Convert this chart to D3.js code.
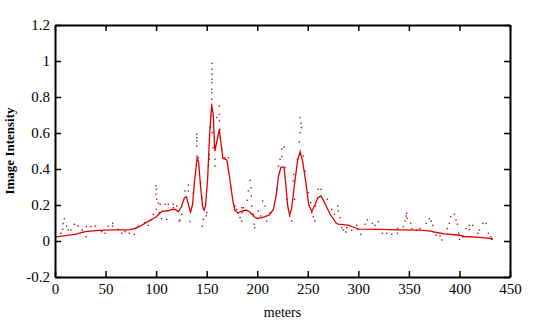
<!DOCTYPE html>
<html lang="en">
<head>
    <meta charset="UTF-8">
    <title>Image Intensity vs meters</title>
    <script src="https://d3js.org/d3.v7.min.js"></script>
    <style>
        body { margin: 0; background: #fff; }
        text { font-family: "Liberation Serif", "Times New Roman", serif; }
    </style>
</head>
<body>
    <div id="my_dataviz"></div>

    <script>
        // smoothed profile [meters, intensity]
        var linePoints = [
            [0, 0.022], [10, 0.03], [20, 0.037], [25, 0.045], [30, 0.052], [40, 0.058],
            [50, 0.06], [60, 0.062], [70, 0.062], [75, 0.063], [80, 0.07], [85, 0.085],
            [90, 0.102], [95, 0.117], [100, 0.133], [103, 0.15], [106, 0.165], [112, 0.168],
            [116, 0.175], [119, 0.175], [122, 0.162], [125, 0.19], [128, 0.24], [130, 0.245],
            [133, 0.18], [134, 0.16], [136, 0.2], [138, 0.33], [140.5, 0.46], [142, 0.44],
            [144, 0.3], [146, 0.19], [147.5, 0.17], [149, 0.2], [151, 0.35], [153, 0.6],
            [155, 0.755], [156.5, 0.7], [158, 0.5], [160, 0.55], [162.5, 0.62], [164, 0.55],
            [166, 0.46], [170, 0.45], [172, 0.38], [174, 0.3], [176, 0.22], [178, 0.17],
            [181, 0.155], [184, 0.165], [189, 0.172], [193, 0.16], [197, 0.135], [200, 0.125],
            [205, 0.13], [212, 0.145], [216, 0.175], [219, 0.26], [221, 0.36], [223.5, 0.41],
            [226.5, 0.41], [228, 0.33], [230, 0.2], [232, 0.145], [234, 0.18], [237, 0.32],
            [240, 0.45], [242.5, 0.497], [245, 0.44], [248, 0.33], [251, 0.2], [254, 0.165],
            [257, 0.2], [260, 0.24], [263, 0.25], [266, 0.22], [269, 0.185], [272, 0.15],
            [275, 0.125], [278, 0.1], [280, 0.094], [290, 0.088], [296, 0.075], [300, 0.066],
            [320, 0.065], [340, 0.062], [360, 0.06], [370, 0.056], [375, 0.05], [385, 0.04],
            [400, 0.032], [405, 0.025], [420, 0.02], [430, 0.015], [433, 0.008]
        ];

        // raw samples [meters, intensity]
        var dotPoints = [
            [5.9, 0.043], [7.6, 0.065], [8.2, 0.097], [9.2, 0.124], [11.5, 0.083], [13.2, 0.061],
            [15.8, 0.061], [19.1, 0.093], [23, 0.083], [27, 0.061], [30.7, 0.024], [31, 0.08],
            [35.3, 0.08], [39.6, 0.083], [46.2, 0.052], [49.5, 0.043], [52.7, 0.083], [57, 0.098],
            [57, 0.083], [62.6, 0.065], [66, 0.043], [69.2, 0.052], [73.5, 0.043], [74.8, 0.065],
            [78.5, 0.037], [80, 0.074], [82, 0.083], [89, 0.102], [92.3, 0.087], [95.6, 0.12],
            [97.2, 0.148], [99.9, 0.306], [100.3, 0.287], [99.9, 0.26], [100.6, 0.232], [102.2, 0.21],
            [100.3, 0.176], [103, 0.158], [105.5, 0.124], [104, 0.204], [108.8, 0.204], [110.5, 0.12],
            [112, 0.204], [117, 0.204], [120.4, 0.194], [123, 0.11], [117, 0.185], [123.6, 0.117],
            [125.3, 0.148], [128.6, 0.278], [131.9, 0.31], [131.9, 0.278], [133.5, 0.108], [134, 0.167],
            [136.8, 0.269], [140.1, 0.593], [140.1, 0.574], [140.1, 0.556], [140.1, 0.528], [140.5, 0.472],
            [141.8, 0.463], [144.1, 0.324], [145.1, 0.241], [145.7, 0.083], [146.7, 0.12], [147.7, 0.18],
            [150, 0.158], [149.6, 0.14], [151.6, 0.417], [152.6, 0.454], [152.6, 0.48], [153.3, 0.63],
            [154, 0.694], [155, 0.76], [155, 0.787], [155, 0.824], [155, 0.843], [155, 0.88],
            [155.3, 0.898], [155.3, 0.926], [155.3, 0.954], [155.3, 0.987], [155.6, 0.602], [156.2, 0.519],
            [158.3, 0.417], [158.3, 0.454], [160, 0.686], [162.6, 0.75], [162.6, 0.704], [162.6, 0.667],
            [163.2, 0.62], [163.4, 0.574], [164.9, 0.51], [168.2, 0.463], [171.5, 0.463], [173.8, 0.297],
            [178, 0.194], [179.7, 0.176], [183, 0.13], [184.6, 0.111], [186.3, 0.185], [191.2, 0.278],
            [184.7, 0.185], [185, 0.157], [190.2, 0.226], [192.9, 0.337], [193.9, 0.296], [194.2, 0.25],
            [194.6, 0.194], [196.2, 0.148], [196.9, 0.093], [197.5, 0.074], [201.1, 0.167], [203.5, 0.139],
            [205.4, 0.222], [207.7, 0.194], [209.4, 0.111], [212.7, 0.158], [219.3, 0.287], [221, 0.417],
            [222.6, 0.454], [224.3, 0.51], [226.5, 0.522], [224.3, 0.47], [227.5, 0.408], [229.2, 0.232],
            [230.8, 0.176], [232.4, 0.139], [234.1, 0.111], [235.7, 0.333], [236.2, 0.37], [237, 0.232],
            [239.7, 0.454], [241.7, 0.55], [242.3, 0.602], [243.3, 0.654], [242.3, 0.686], [243.8, 0.63],
            [245.6, 0.472], [247.3, 0.389], [250.6, 0.269], [252.9, 0.213], [253.9, 0.157], [255.5, 0.135],
            [257, 0.111], [257.6, 0.194], [260.4, 0.287], [263.1, 0.287], [269.4, 0.232], [273.7, 0.176],
            [276.3, 0.148], [279.6, 0.194], [280.2, 0.167], [281.9, 0.13], [283.5, 0.074], [288.5, 0.074],
            [287.8, 0.05], [285.2, 0.061], [293.5, 0.061], [298.4, 0.087], [299.5, 0.065], [302.4, 0.037],
            [306.6, 0.093], [308.9, 0.117], [313.9, 0.098], [316.5, 0.087], [319.8, 0.108], [323.8, 0.043],
            [328.1, 0.043], [333.1, 0.037], [338.9, 0.069], [338.7, 0.043], [344.5, 0.08], [346.2, 0.111],
            [347.2, 0.139], [347.8, 0.154], [348.2, 0.126], [351.8, 0.098], [352.8, 0.069], [357.8, 0.061],
            [361, 0.069], [367, 0.098], [370.3, 0.124], [372, 0.111], [373.6, 0.087], [376.9, 0.032],
            [380.8, 0.028], [382.5, 0.006], [388, 0.069], [390, 0.098], [391.4, 0.135], [395, 0.148],
            [396.6, 0.117], [398, 0.093], [399.3, 0.043], [400, 0.009], [403.3, 0.022], [406.5, 0.069],
            [409.8, 0.087], [409.8, 0.063], [413.2, 0.087], [418.1, 0.043], [419.8, 0.061], [423.1, 0.098],
            [426.3, 0.098], [428.6, 0.043], [431, 0.024], [432, 0.015]
        ];

        var xTicks = [0, 50, 100, 150, 200, 250, 300, 350, 400, 450];
        var yTicks = [-0.2, 0, 0.2, 0.4, 0.6, 0.8, 1, 1.2];
        var yTickLabels = ["-0.2", "0", "0.2", "0.4", "0.6", "0.8", "1", "1.2"];

        var margin = {top: 25, right: 31, bottom: 56, left: 55};
        var width = 541 - margin.left - margin.right;
        var height = 333 - margin.top - margin.bottom;

        var svg = d3.select("#my_dataviz")
            .append("svg")
            .attr("width", 541)
            .attr("height", 333)
            .append("g")
            .attr("transform", "translate(" + margin.left + "," + margin.top + ")");

        var x = d3.scaleLinear().domain([0, 450]).range([0, width]);
        var y = d3.scaleLinear().domain([-0.2, 1.2]).range([height, 0]);

        // raw samples as tiny dots
        svg.selectAll("rect.dot")
            .data(dotPoints)
            .enter()
            .append("rect")
                .attr("class", "dot")
                .attr("x", function(d) { return x(d[0]) - 0.7; })
                .attr("y", function(d) { return y(d[1]) - 0.7; })
                .attr("width", 1.4)
                .attr("height", 1.4)
                .attr("fill", "#b81414");

        // smoothed line
        var line = d3.line()
            .x(function(d) { return x(d[0]); })
            .y(function(d) { return y(d[1]); });

        svg.append("path")
            .datum(linePoints)
            .attr("d", line)
            .attr("fill", "none")
            .attr("stroke", "#e00000")
            .attr("stroke-width", 1.3);

        // axes, ticks pointing inward on all four sides
        var xAxis = svg.append("g")
            .attr("transform", "translate(0," + height + ")")
            .call(d3.axisBottom(x).tickValues(xTicks).tickSizeInner(-6).tickSizeOuter(0).tickPadding(6));
        var yAxis = svg.append("g")
            .call(d3.axisLeft(y).tickValues(yTicks).tickSizeInner(-6).tickSizeOuter(0).tickPadding(5)
                .tickFormat(function(d, i) { return yTickLabels[i]; }));
        var topAxis = svg.append("g")
            .call(d3.axisTop(x).tickValues(xTicks).tickSizeInner(-6).tickSizeOuter(0).tickFormat(""));
        var rightAxis = svg.append("g")
            .attr("transform", "translate(" + width + ",0)")
            .call(d3.axisRight(y).tickValues(yTicks).tickSizeInner(-6).tickSizeOuter(0).tickFormat(""));

        [xAxis, yAxis, topAxis, rightAxis].forEach(function(g) {
            g.select(".domain").attr("stroke", "#000").attr("stroke-width", 2);
            g.selectAll(".tick line").attr("stroke", "#000").attr("stroke-width", 1.5);
            g.selectAll(".tick text")
                .attr("fill", "#000")
                .style("font-family", "'Liberation Serif', serif")
                .style("font-size", "15px");
        });

        // axis titles
        svg.append("text")
            .attr("x", width / 2)
            .attr("y", height + 40)
            .attr("text-anchor", "middle")
            .style("font-size", "14px")
            .text("meters");

        svg.append("text")
            .attr("transform", "rotate(-90)")
            .attr("x", -height / 2)
            .attr("y", -41)
            .attr("text-anchor", "middle")
            .style("font-size", "13px")
            .style("font-weight", "bold")
            .text("Image Intensity");
    </script>
</body>
</html>
